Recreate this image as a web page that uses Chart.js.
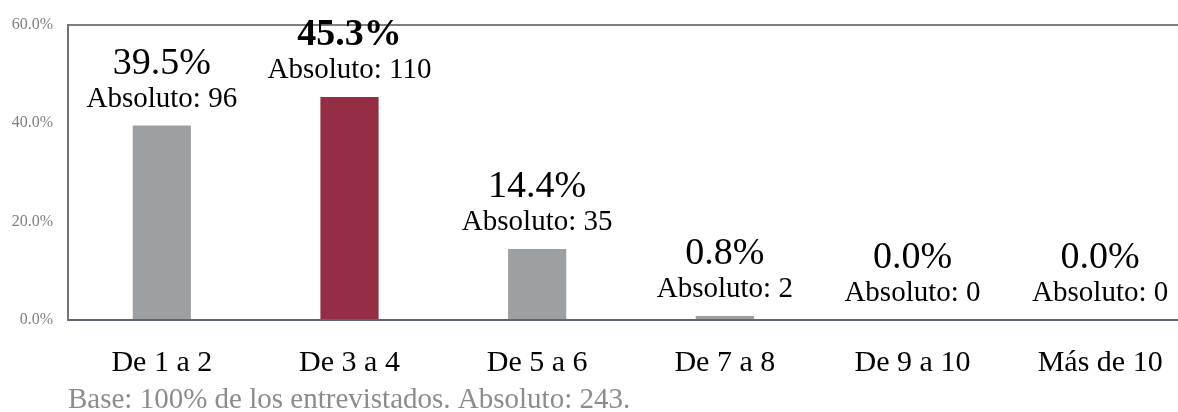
<!DOCTYPE html>
<html>
<head>
<meta charset="utf-8">
<script src="https://cdn.jsdelivr.net/npm/chart.js@4"></script>
<style>
  html, body { margin: 0; padding: 0; background: #fff; overflow: hidden; }
  #wrap { position: relative; width: 1194px; height: 412px; }
</style>
</head>
<body>
<div id="wrap"><canvas id="barChart"></canvas></div>
<script>
// Chart data
const categories = ['De 1 a 2', 'De 3 a 4', 'De 5 a 6', 'De 7 a 8', 'De 9 a 10', 'Más de 10'];
const percentages = [39.5, 45.3, 14.4, 0.8, 0.0, 0.0];
const absolutes = [96, 110, 35, 2, 0, 0];
const yTicks = [0, 20, 40, 60];
const footnote = 'Base: 100% de los entrevistados. Absoluto: 243.';

const GREY = '#9da0a3';
const RED = '#952d44';
const SERIF = '"Liberation Serif", "DejaVu Serif", serif';

const maxValue = Math.max(...percentages);

// Draws the value labels above bars and the footnote
const labelPlugin = {
    id: 'barLabels',
    afterDatasetsDraw(chart) {
        const ctx = chart.ctx;
        const meta = chart.getDatasetMeta(0);
        ctx.save();
        ctx.textAlign = 'center';
        ctx.textBaseline = 'alphabetic';
        ctx.fillStyle = '#000';
        meta.data.forEach(function(bar, i) {
            const isMax = percentages[i] === maxValue;
            ctx.font = (isMax ? 'bold ' : '') + '38px ' + SERIF;
            ctx.fillText(percentages[i].toFixed(1) + '%', bar.x, bar.y - 52);
            ctx.font = '29px ' + SERIF;
            ctx.fillText('Absoluto: ' + absolutes[i], bar.x, bar.y - 19);
        });
        // footnote
        ctx.textAlign = 'left';
        ctx.fillStyle = '#8c8c8c';
        ctx.font = '29px ' + SERIF;
        ctx.fillText(footnote, chart.chartArea.left, chart.height - 4);
        ctx.restore();
    }
};

const ctx = document.getElementById('barChart');
new Chart(ctx, {
    type: 'bar',
    data: {
        labels: categories,
        datasets: [{
            data: percentages,
            backgroundColor: percentages.map(v => v === maxValue ? RED : GREY),
            borderWidth: 0,
            barPercentage: 0.31,
            categoryPercentage: 1.0
        }]
    },
    options: {
        responsive: true,
        maintainAspectRatio: false,
        animation: false,
        layout: {
            padding: { top: 24, right: 0, bottom: 0, left: 0 }
        },
        plugins: {
            legend: { display: false },
            tooltip: { enabled: false }
        },
        scales: {
            x: {
                grid: { display: false, drawTicks: false },
                border: { display: true, color: '#5f6670', width: 2 },
                ticks: {
                    color: '#000',
                    font: { family: SERIF, size: 30 },
                    padding: 25,
                    maxRotation: 0,
                    autoSkip: false
                },
                afterFit: function(scale) { scale.height = 92; }
            },
            y: {
                min: 0,
                max: 60,
                afterBuildTicks: function(scale) {
                    scale.ticks = yTicks.map(v => ({ value: v }));
                },
                grid: {
                    drawTicks: false,
                    lineWidth: 2,
                    color: function(c) {
                        return c.tick && c.tick.value === 60 ? '#7f7f7f' : 'rgba(0,0,0,0)';
                    }
                },
                border: { display: true, color: '#6f737a', width: 2 },
                ticks: {
                    color: '#7f7f7f',
                    font: { family: SERIF, size: 16 },
                    padding: 15,
                    callback: function(value) { return value.toFixed(1) + '%'; }
                },
                afterFit: function(scale) { scale.width = 68; }
            }
        }
    },
    plugins: [labelPlugin]
});
</script>
</body>
</html>
